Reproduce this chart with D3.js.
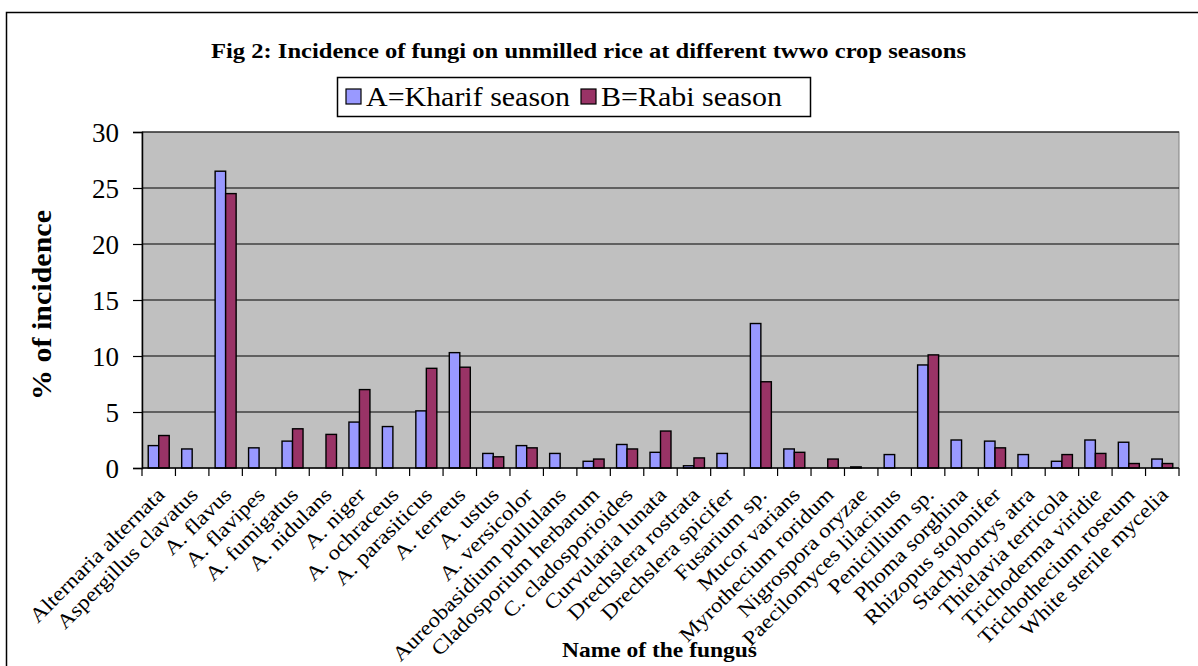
<!DOCTYPE html>
<html>
<head>
<meta charset="utf-8">
<script src="https://cdn.jsdelivr.net/npm/d3@7"></script>
<style>
  html, body { margin: 0; padding: 0; background: #fff; }
  svg { display: block; }
  svg text { font-family: 'Liberation Serif', serif; fill: #000; }
</style>
</head>
<body>
<svg id="chart" width="1198" height="666"></svg>
<script>
// Fungus names along the category axis
const fungi = [
  "Alternaria alternata", "Aspergillus clavatus", "A. flavus", "A. flavipes",
  "A. fumigatus", "A. nidulans", "A. niger", "A. ochraceus", "A. parasiticus",
  "A. terreus", "A. ustus", "A. versicolor", "Aureobasidium pullulans",
  "Cladosporium herbarum", "C. cladosporioides", "Curvularia lunata",
  "Drechslera rostrata", "Drechslera spicifer", "Fusarium sp.", "Mucor varians",
  "Myrothecium roridum", "Nigrospora oryzae", "Paecilomyces lilacinus",
  "Penicillium sp.", "Phoma sorghina", "Rhizopus stolonifer", "Stachybotrys atra",
  "Thielavia terricola", "Trichoderma viridie", "Trichothecium roseum",
  "White sterile mycelia"
];

// % incidence, Kharif season (A)
const kharif = [
  2.0, 1.7, 26.5, 1.8, 2.4, 0.0, 4.1, 3.7, 5.1, 10.3, 1.3, 2.0, 1.3, 0.6, 2.1,
  1.4, 0.2, 1.3, 12.9, 1.7, 0.0, 0.1, 1.2, 9.2, 2.5, 2.4, 1.2, 0.6, 2.5, 2.3, 0.8
];

// % incidence, Rabi season (B)
const rabi = [
  2.9, 0.0, 24.5, 0.0, 3.5, 3.0, 7.0, 0.0, 8.9, 9.0, 1.0, 1.8, 0.0, 0.8, 1.7,
  3.3, 0.9, 0.0, 7.7, 1.4, 0.8, 0.0, 0.0, 10.1, 0.0, 1.8, 0.0, 1.2, 1.3, 0.4, 0.4
];

const seriesNames = ["A=Kharif season", "B=Rabi season"];
const seriesColors = ["#9999FF", "#993366"];
const yTicks = [0, 5, 10, 15, 20, 25, 30];

const FONT = "'Liberation Serif', serif";
const svg = d3.select("#chart");
const plot = { left: 142, right: 1179, top: 132, bottom: 468 };

// Stretch a text element to a given width
function fitWidth(sel, width) {
  sel.attr("textLength", width).attr("lengthAdjust", "spacingAndGlyphs");
}

// Outer chart frame
svg.append("rect")
  .attr("x", 6.5).attr("y", 12.5)
  .attr("width", 1300).attr("height", 700)
  .attr("fill", "none").attr("stroke", "#000").attr("stroke-width", 1.5);

const x0 = d3.scaleBand().domain(fungi).range([plot.left, plot.right]).paddingInner(0).paddingOuter(0);
const barW = 10.5;
const y = d3.scaleLinear().domain([0, 30]).range([plot.bottom, plot.top]);

// Plot area
svg.append("rect")
  .attr("x", plot.left).attr("y", plot.top)
  .attr("width", plot.right - plot.left).attr("height", plot.bottom - plot.top)
  .attr("fill", "#C0C0C0").attr("stroke", "#808080").attr("stroke-width", 1);

// Horizontal gridlines
svg.append("g")
  .selectAll("line")
  .data(yTicks.filter(t => t > 0))
  .join("line")
  .attr("x1", plot.left).attr("x2", plot.right)
  .attr("y1", d => y(d)).attr("y2", d => y(d))
  .attr("stroke", "#000").attr("stroke-width", 1);

// Bars, one group per season
const seriesData = [kharif, rabi];
seriesData.forEach((vals, si) => {
  svg.append("g")
    .selectAll("rect")
    .data(vals.map((v, i) => ({ name: fungi[i], v })).filter(d => d.v > 0))
    .join("rect")
    .attr("x", d => x0(d.name) + x0.bandwidth() / 2 - barW + si * barW)
    .attr("y", d => y(d.v))
    .attr("width", barW)
    .attr("height", d => y(0) - y(d.v))
    .attr("fill", seriesColors[si])
    .attr("stroke", "#000")
    .attr("stroke-width", 1.4);
});

// Y axis
const yAxis = d3.axisLeft(y).tickValues(yTicks).tickSize(9).tickPadding(14).tickFormat(d3.format("d"));
const yg = svg.append("g").attr("transform", `translate(${plot.left},0)`).call(yAxis);
yg.attr("font-family", null).attr("font-size", null);
yg.select(".domain").attr("stroke", "#000").attr("stroke-width", 1.5);
yg.selectAll(".tick line").attr("stroke", "#000").attr("stroke-width", 1.2);
yg.selectAll(".tick text")
  .style("font-family", FONT)
  .style("font-size", "27px")
  .attr("fill", "#000")
  .attr("dy", "0.34em");

// X axis with ticks at category boundaries
const xAxisG = svg.append("g").attr("transform", `translate(0,${plot.bottom})`);
xAxisG.append("line")
  .attr("x1", plot.left).attr("x2", plot.right)
  .attr("stroke", "#000").attr("stroke-width", 1.5);
xAxisG.selectAll("line.tk")
  .data(d3.range(fungi.length + 1))
  .join("line")
  .attr("class", "tk")
  .attr("x1", i => plot.left + i * x0.step())
  .attr("x2", i => plot.left + i * x0.step())
  .attr("y1", 0).attr("y2", 8)
  .attr("stroke", "#000").attr("stroke-width", 1.2);

// Rotated category labels, slightly widened
svg.append("g")
  .selectAll("text")
  .data(fungi)
  .join("text")
  .attr("transform", d => `translate(${x0(d) + x0.bandwidth() / 2 + 7},${plot.bottom + 28}) rotate(-45)`)
  .attr("text-anchor", "end")
  .style("font-family", FONT)
  .style("font-size", "20.5px")
  .text(d => d)
  .each(function () {
    const w = this.getComputedTextLength();
    d3.select(this).call(fitWidth, w * 1.14);
  });

// Title
svg.append("text")
  .attr("x", 211).attr("y", 58)
  .style("font-family", FONT)
  .style("font-size", "22px").style("font-weight", "bold")
  .call(fitWidth, 755)
  .text("Fig 2: Incidence of fungi on unmilled rice at different twwo crop seasons");

// Legend
const lg = svg.append("g");
lg.append("rect")
  .attr("x", 337.5).attr("y", 77.5).attr("width", 473).attr("height", 39)
  .attr("fill", "#fff").attr("stroke", "#000").attr("stroke-width", 1.5);
const legendItems = [
  { sx: 346, tx: 366, tw: 204 },
  { sx: 581, tx: 601, tw: 181 }
];
seriesNames.forEach((name, i) => {
  lg.append("rect")
    .attr("x", legendItems[i].sx).attr("y", 89).attr("width", 15).attr("height", 15)
    .attr("fill", seriesColors[i]).attr("stroke", "#000").attr("stroke-width", 1.2);
  lg.append("text")
    .attr("x", legendItems[i].tx).attr("y", 106)
    .style("font-family", FONT)
    .style("font-size", "27px")
    .call(fitWidth, legendItems[i].tw)
    .text(name);
});

// Axis titles
svg.append("text")
  .attr("transform", "translate(51,305) rotate(-90)")
  .attr("text-anchor", "middle")
  .style("font-family", FONT)
  .style("font-size", "28px").style("font-weight", "bold")
  .call(fitWidth, 190)
  .text("% of incidence");

svg.append("text")
  .attr("x", 562).attr("y", 657)
  .style("font-family", FONT)
  .style("font-size", "22px").style("font-weight", "bold")
  .call(fitWidth, 195)
  .text("Name of the fungus");
</script>
</body>
</html>
